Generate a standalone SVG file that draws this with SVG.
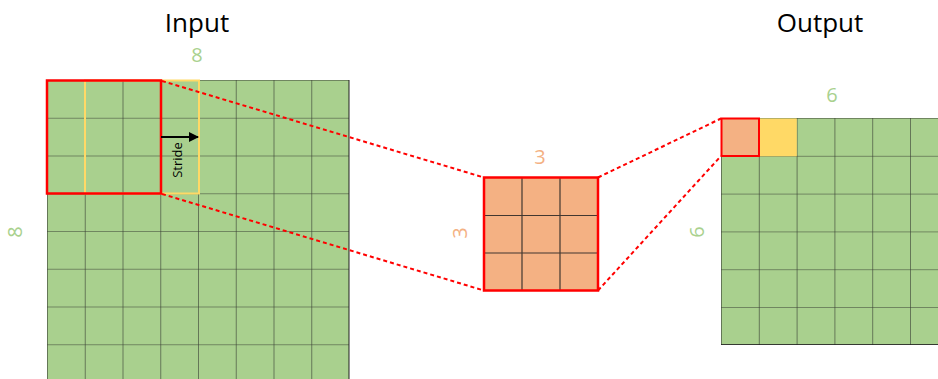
<svg xmlns="http://www.w3.org/2000/svg" width="938" height="379" viewBox="0 0 938 379">
<defs>
<style>
.title{font-family:"Open Sans","Liberation Sans",sans-serif;font-size:26px;fill:#000;text-anchor:middle}
.dimg{font-family:"Open Sans","Liberation Sans",sans-serif;font-size:20px;fill:#A9D18E;text-anchor:middle}
.dimo{font-family:"Open Sans","Liberation Sans",sans-serif;font-size:20px;fill:#F4B183;text-anchor:middle}
.grid{stroke:#222;stroke-opacity:0.85;stroke-width:1.2;fill:none}
.dash{stroke:#FF0000;stroke-width:2;stroke-dasharray:4,3;fill:none}
</style>
<pattern id="cells" x="47" y="80" width="37.75" height="37.75" patternUnits="userSpaceOnUse">
<rect width="37.75" height="37.75" fill="#A9D08E"/>
<path d="M0 0H37.75M0 0V37.75" stroke="#222" stroke-opacity="0.85" stroke-width="1.2"/>
</pattern>
<pattern id="cellso" x="721" y="118" width="37.8" height="37.8" patternUnits="userSpaceOnUse">
<rect width="37.8" height="37.8" fill="#A9D08E"/>
<path d="M0 0H37.8M0 0V37.8" stroke="#222" stroke-opacity="0.85" stroke-width="1.2"/>
</pattern>
<marker id="arr" markerWidth="10" markerHeight="10" refX="9" refY="5" orient="auto" markerUnits="userSpaceOnUse">
<path d="M0 0L10 5L0 10Z" fill="#000"/>
</marker>
</defs>
<rect width="938" height="379" fill="#fff"/>

<g id="input">
<text class="title" x="197" y="32">Input</text>
<text class="dimg" x="197" y="62">8</text>
<text class="dimg" transform="translate(22,232) rotate(-90)">8</text>
<rect x="47" y="80" width="302" height="310" fill="url(#cells)"/>
<path class="grid" d="M349 80V379"/>
<rect x="85" y="80.5" width="114" height="113" fill="none" stroke="#FFD966" stroke-width="2"/>
<rect x="47" y="80.5" width="114" height="113" fill="none" stroke="#FF0000" stroke-width="2.5"/>
<line x1="161" y1="137" x2="198" y2="137" stroke="#000" stroke-width="2" marker-end="url(#arr)"/>
<text transform="translate(182,160) rotate(-90)" font-family="'Open Sans','Liberation Sans',sans-serif" font-size="13" text-anchor="middle" fill="#000">Stride</text>
</g>

<g id="kernel">
<text class="dimo" x="540" y="164">3</text>
<text class="dimo" transform="translate(467,233) rotate(-90)">3</text>
<rect x="484" y="177.5" width="114" height="113" fill="#F4B183"/>
<path class="grid" d="M522 177.5V290.5M560 177.5V290.5M484 215.5H598M484 253H598"/>
<rect x="484" y="177.5" width="114" height="113" fill="none" stroke="#FF0000" stroke-width="2.5"/>
</g>

<g id="output">
<text class="title" x="820" y="32">Output</text>
<text class="dimg" x="832" y="102">6</text>
<text class="dimg" transform="translate(704,232) rotate(-90)">6</text>
<rect x="721" y="118" width="230" height="227" fill="url(#cellso)"/>
<path class="grid" d="M721 344.5H938"/>
<rect x="759" y="118.5" width="37.8" height="37.8" fill="#FFD966"/>
<rect x="721.5" y="118.5" width="37.5" height="37.5" fill="#F4B183" stroke="#FF0000" stroke-width="2"/>
</g>

<g id="connectors">
<line class="dash" x1="162" y1="81" x2="484" y2="177.5"/>
<line class="dash" x1="162" y1="194" x2="484" y2="290.5"/>
<line class="dash" x1="598" y1="177.5" x2="721" y2="118.5"/>
<line class="dash" x1="598" y1="290.5" x2="721" y2="156"/>
</g>
</svg>
